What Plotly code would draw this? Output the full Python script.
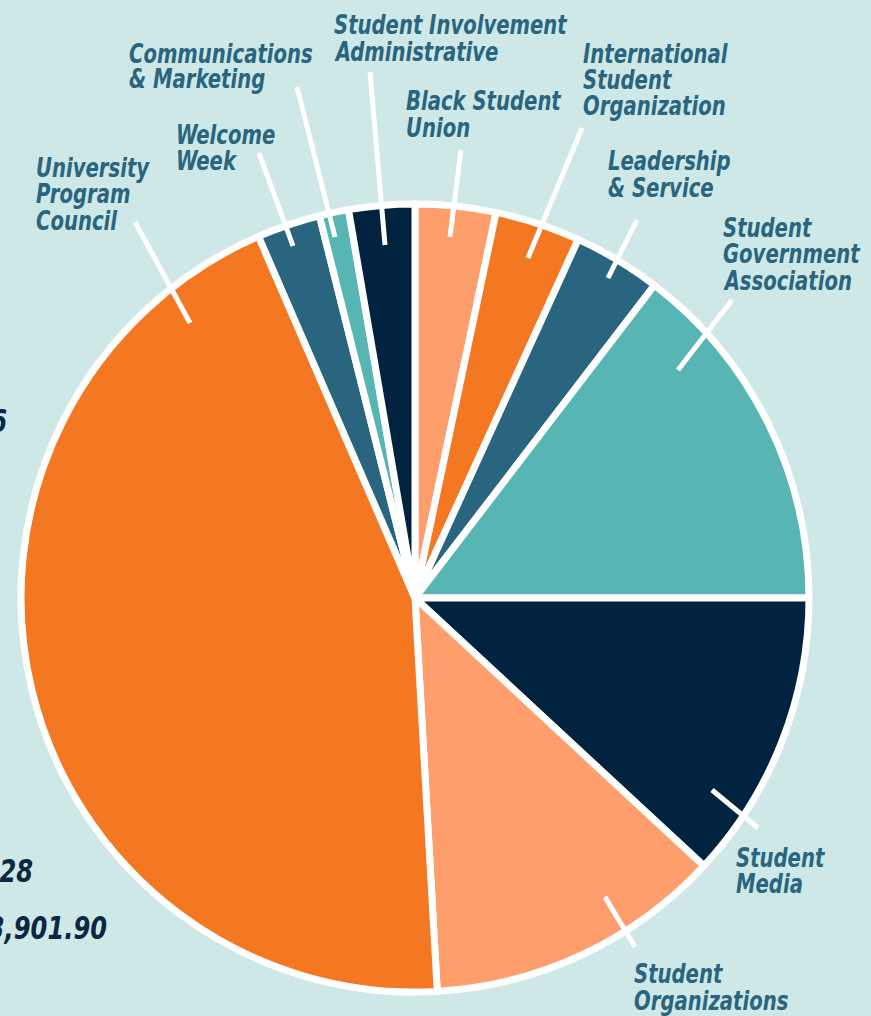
import plotly.graph_objects as go

# ---- data (share of budget) ----
categories = [
    "Black Student Union",
    "International Student Organization",
    "Leadership & Service",
    "Student Government Association",
    "Student Media",
    "Student Organizations",
    "University Program Council",
    "Welcome Week",
    "Communications & Marketing",
    "Student Involvement Administrative",
]
values = [3.3, 3.5, 3.6, 14.6, 11.9, 12.2, 44.4, 2.6, 1.2, 2.7]
slice_colors = ["#fd9e6c", "#f47721", "#2a6580", "#57b6b4", "#012340",
                "#fd9e6c", "#f47721", "#2a6580", "#57b6b4", "#012340"]

# label line breaks as printed
label_lines = [
    ["Black Student", "Union"],
    ["International", "Student", "Organization"],
    ["Leadership", "& Service"],
    ["Student", "Government", "Association"],
    ["Student", "Media"],
    ["Student", "Organizations"],
    ["University", "Program", "Council"],
    ["Welcome", "Week"],
    ["Communications", "& Marketing"],
    ["Student Involvement", "Administrative"],
]

# cut-off texts at the left edge (belong to a neighbouring panel)
edge_texts = ["46", "128", "$3,901.90"]

# ---- layout config (pixels) ----
W, H = 871, 1016
CX, CY, R = 415, 598, 394
BG = "#cde8e6"
LABEL_COLOR = "#2a6580"
FONT = "DejaVu Sans Condensed, DejaVu Sans, sans-serif"
FS = 26

# label placement: (left x, first baseline y, line gap)
label_pos = [
    (405, 110, 27),
    (582, 63, 26),
    (607, 170, 27),
    (722, 237, 26.5),
    (735, 867, 26),
    (633, 983, 27),
    (35, 177, 26.5),
    (175, 144, 26),
    (128, 63, 25),
    (333, 34, 27),
]
# leader lines: (x0, y0, x1, y1)
leaders = [
    (461, 150, 450, 237),
    (582, 128, 528, 258),
    (637, 220, 608, 278),
    (732, 300, 678, 370),
    (712, 790, 758, 828),
    (605, 897, 635, 947),
    (190, 323, 135, 222),
    (293, 246, 259, 153),
    (335, 237, 297, 87),
    (385, 245, 370, 72),
]
edge_pos = [(8, 433, 32), (34, 883, 32), (108, 940, 32)]


def px(x):
    return x / W


def py(y):
    return 1 - y / H


fig = go.Figure(
    go.Pie(
        labels=categories,
        values=values,
        sort=False,
        direction="clockwise",
        rotation=0,
        marker=dict(colors=slice_colors, line=dict(color="white", width=7)),
        textinfo="none",
        hoverinfo="label+percent",
        showlegend=False,
        domain=dict(x=[px(CX - R), px(CX + R)], y=[py(CY + R), py(CY - R)]),
    )
)

shapes = []
for (x0, y0, x1, y1) in leaders:
    shapes.append(dict(type="line", xref="paper", yref="paper",
                       x0=px(x0), y0=py(y0), x1=px(x1), y1=py(y1),
                       line=dict(color="white", width=5), layer="above"))

annotations = []
for lines, (lx, by, gap) in zip(label_lines, label_pos):
    for i, t in enumerate(lines):
        b = by + i * gap
        annotations.append(dict(
            text=t, x=px(lx), y=py(b - 0.36 * FS), xref="paper", yref="paper",
            xanchor="left", yanchor="middle", align="left", showarrow=False,
            borderpad=0,
            font=dict(family=FONT, size=FS, color=LABEL_COLOR, weight="bold", style="italic"),
        ))

for t, (rx, by, fs) in zip(edge_texts, edge_pos):
    annotations.append(dict(
        text=t, x=px(rx), y=py(by - 0.36 * fs), xref="paper", yref="paper",
        xanchor="right", yanchor="middle", align="right", showarrow=False,
        borderpad=0,
        font=dict(family=FONT, size=fs, color="#0b2742", weight="bold", style="italic"),
    ))

fig.update_layout(
    width=W, height=H,
    margin=dict(l=0, r=0, t=0, b=0),
    paper_bgcolor=BG, plot_bgcolor=BG,
    shapes=shapes, annotations=annotations,
)

# remove page margin and narrow the letters (condensed poster type)
post = """
document.body.style.margin = '0';
document.querySelectorAll('.annotation-text').forEach(function (t) {
  var right = t.getAttribute('text-anchor') === 'end';
  t.style.transformBox = 'fill-box';
  t.style.transformOrigin = right ? '100% 50%' : '0% 50%';
  t.style.transform = 'scaleX(0.84)';
});
"""

fig.write_html("out.html", post_script=post, config={"displayModeBar": False})
